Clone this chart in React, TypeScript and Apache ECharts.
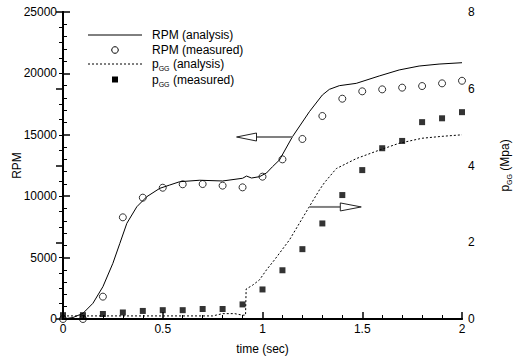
import React, { useEffect, useRef } from "react";
import * as echarts from "echarts";

// ---- data ----
const rpmAnalysisX = [0, 0.05, 0.1, 0.15, 0.2, 0.25, 0.285, 0.32, 0.37, 0.42, 0.485, 0.535, 0.585, 0.685, 0.8, 0.9, 0.92, 0.945, 0.985, 1.02, 1.05, 1.085, 1.15, 1.235, 1.3, 1.335, 1.385, 1.47, 1.585, 1.685, 1.785, 1.885, 2.0];
const rpmAnalysisY = [0, 120, 460, 1280, 2630, 4535, 6160, 7790, 9140, 9960, 10640, 10910, 11180, 11300, 11240, 11460, 11640, 11480, 11590, 11890, 12400, 12950, 14840, 16880, 18240, 18700, 19000, 19190, 19790, 20280, 20600, 20760, 20870];

const measuredTime = [0, 0.1, 0.2, 0.3, 0.4, 0.5, 0.6, 0.7, 0.8, 0.9, 1.0, 1.1, 1.2, 1.3, 1.4, 1.5, 1.6, 1.7, 1.8, 1.9, 2.0];
const rpmMeasured = [0, 0, 1820, 8280, 9880, 10690, 10970, 10990, 10860, 10720, 11590, 13000, 14660, 16530, 17940, 18540, 18700, 18840, 18970, 19190, 19400];
const pggMeasured = [0.10, 0.10, 0.13, 0.17, 0.21, 0.23, 0.23, 0.26, 0.26, 0.38, 0.77, 1.27, 1.82, 2.49, 3.23, 3.88, 4.45, 4.64, 5.13, 5.23, 5.39];

const pggAnalysisX = [0, 0.75, 0.8, 0.86, 0.9, 0.915, 0.918, 0.95, 0.985, 1.02, 1.06, 1.135, 1.235, 1.285, 1.31, 1.37, 1.42, 1.47, 1.585, 1.685, 1.8, 1.9, 2.0];
const pggAnalysisY = [0.08, 0.08, 0.14, 0.14, 0.1, 0.1, 0.78, 0.88, 1.02, 1.28, 1.54, 2.06, 2.93, 3.36, 3.55, 3.92, 4.05, 4.18, 4.40, 4.58, 4.71, 4.76, 4.80];

// arrows: [start x, y, tip x, head-base x]
const rpmArrow = [[1.15, 14820, 0.87, 0.97]];
const pggArrow = [[1.235, 2.92, 1.495, 1.39]];

const xTicks = { min: 0, max: 2, interval: 0.5 };
const rpmTicks = { min: 0, max: 25000, interval: 5000 };
const pggTicks = { min: 0, max: 8, interval: 2 };

const FONT = "Liberation Sans, Arial, Helvetica, sans-serif";
const zip = (xs: number[], ys: number[]) => xs.map((x, i) => [x, ys[i]]);

const subRich = {
  p: { fontSize: 12, fontFamily: FONT, color: "#000", lineHeight: 16 },
  s: { fontSize: 7, fontFamily: FONT, color: "#000", verticalAlign: "bottom" as const },
};

function arrowRender(params: any, api: any) {
  const y = api.value(1);
  const s = api.coord([api.value(0), y]);
  const t = api.coord([api.value(2), y]);
  const b = api.coord([api.value(3), y]);
  const hw = 4;
  return {
    type: "group",
    children: [
      { type: "line", shape: { x1: s[0], y1: s[1], x2: b[0], y2: b[1] }, style: { stroke: "#808080", lineWidth: 2 } },
      {
        type: "polygon",
        shape: { points: [[t[0], t[1]], [b[0], b[1] - hw], [b[0], b[1] + hw]] },
        style: { fill: "#fff", stroke: "#222", lineWidth: 1 },
      },
    ],
  };
}

export default function App() {
  const ref = useRef<HTMLDivElement>(null);
  useEffect(() => {
    if (!ref.current) return;
    const chart = echarts.init(ref.current, null, { renderer: "svg" });
    const plain = (v: number) => String(v);
    const axisCommon = {
      type: "value" as const,
      splitLine: { show: false },
      minorSplitLine: { show: false },
      axisLine: { show: true, lineStyle: { color: "#000", width: 2 } },
      axisTick: { show: true, inside: true, length: 7, lineStyle: { color: "#000", width: 1.5 } },
      minorTick: { show: true, splitNumber: 5, length: 4, lineStyle: { color: "#000", width: 1 } },
      axisLabel: { color: "#000", fontSize: 12, fontFamily: FONT, formatter: plain },
      nameTextStyle: { color: "#000", fontSize: 12, fontFamily: FONT },
      nameLocation: "middle" as const,
      nameMoveOverlap: false,
    };
    chart.setOption({
      animation: false,
      backgroundColor: "#fff",
      grid: { left: 63, right: 55, top: 12, bottom: 41, containLabel: false, outerBoundsMode: "none" },
      xAxis: [
        { ...axisCommon, ...xTicks, position: "bottom", name: "time (sec)", nameGap: 24, axisLabel: { ...axisCommon.axisLabel, margin: 4 } },
        {
          type: "value", ...xTicks, position: "top",
          axisLine: { show: true, lineStyle: { color: "#000", width: 1.5 } },
          axisTick: { show: false }, axisLabel: { show: false }, splitLine: { show: false },
        },
      ],
      yAxis: [
        { ...axisCommon, ...rpmTicks, position: "left", name: "RPM", nameGap: 40, axisLabel: { ...axisCommon.axisLabel, margin: 6 } },
        {
          ...axisCommon, ...pggTicks, position: "right",
          name: "{p|p}{s|GG}{p| (Mpa)}", nameGap: 35,
          nameTextStyle: { ...axisCommon.nameTextStyle, rich: subRich },
          axisLabel: { ...axisCommon.axisLabel, margin: 6 },
        },
      ],
      series: [
        {
          name: "RPM (analysis)", type: "line", xAxisIndex: 0, yAxisIndex: 0,
          data: zip(rpmAnalysisX, rpmAnalysisY), showSymbol: false, smooth: false,
          lineStyle: { color: "#000", width: 1 }, z: 2,
        },
        {
          name: "pGG (analysis)", type: "line", xAxisIndex: 0, yAxisIndex: 1,
          data: zip(pggAnalysisX, pggAnalysisY), showSymbol: false,
          lineStyle: { color: "#000", width: 1, type: [2, 2] }, z: 2,
        },
        {
          name: "RPM (measured)", type: "scatter", xAxisIndex: 0, yAxisIndex: 0,
          data: zip(measuredTime, rpmMeasured), symbol: "circle", symbolSize: 7,
          itemStyle: { color: "rgba(255,255,255,0)", borderColor: "#000", borderWidth: 1 }, z: 3,
        },
        {
          name: "pGG (measured)", type: "scatter", xAxisIndex: 0, yAxisIndex: 1,
          data: zip(measuredTime, pggMeasured), symbol: "rect", symbolSize: 6,
          itemStyle: { color: "#000" }, z: 3,
        },
        { type: "custom", xAxisIndex: 0, yAxisIndex: 0, data: rpmArrow, renderItem: arrowRender, z: 4, silent: true },
        { type: "custom", xAxisIndex: 0, yAxisIndex: 1, data: pggArrow, renderItem: arrowRender, z: 4, silent: true },
      ],
      graphic: [
        { type: "line", shape: { x1: 88, y1: 35, x2: 142, y2: 35 }, style: { stroke: "#000", lineWidth: 1 } },
        { type: "text", x: 152, y: 35, style: { text: "RPM (analysis)", font: `12px ${FONT}`, fill: "#000", verticalAlign: "middle" } },
        { type: "circle", shape: { cx: 115, cy: 50, r: 3.3 }, style: { fill: "none", stroke: "#000", lineWidth: 1 } },
        { type: "text", x: 152, y: 50, style: { text: "RPM (measured)", font: `12px ${FONT}`, fill: "#000", verticalAlign: "middle" } },
        { type: "line", shape: { x1: 88, y1: 64, x2: 142, y2: 64 }, style: { stroke: "#000", lineWidth: 1, lineDash: [2, 2] } },
        { type: "text", x: 152, y: 64, style: { text: "{p|p}{s|GG}{p| (analysis)}", rich: subRich, verticalAlign: "middle" } },
        { type: "rect", shape: { x: 112, y: 76.5, width: 6, height: 6 }, style: { fill: "#000" } },
        { type: "text", x: 152, y: 80, style: { text: "{p|p}{s|GG}{p| (measured)}", rich: subRich, verticalAlign: "middle" } },
      ],
    });
    return () => chart.dispose();
  }, []);
  return <div ref={ref} style={{ position: "fixed", left: 0, top: 0, width: 517, height: 360 }} />;
}
